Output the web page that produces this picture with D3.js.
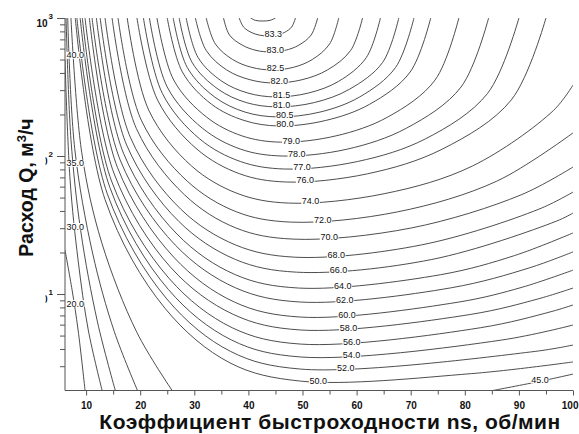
<!DOCTYPE html>
<html>
<head>
<meta charset="utf-8">
<script src="https://cdn.jsdelivr.net/npm/d3@7"></script>
<style>
  body { margin: 0; background: #fff; }
  svg { display: block; }
  text { font-family: "Liberation Sans", Arial, sans-serif; }
</style>
</head>
<body>
<svg id="chart" width="579" height="434"></svg>
<script>
// Pump efficiency isolines: specific speed ns (rpm) vs flow Q (m3/h), efficiency in %.
// Each isoline is a list of [ns, Q] points, ordered left to right.
const line834 = [[40.4,1000],[41.3,961],[42.6,951],[44.0,961],[45.0,1000]];
const line833 = [[38.3,1000],[39.1,861],[40.5,787],[42.0,752],[43.7,741],[45.3,752],[46.7,787],[48.0,861],[48.7,1000]];
const line830 = [[35.4,1000],[36.5,753],[38.9,635],[41.4,583],[44.1,567],[46.8,583],[49.3,635],[51.6,753],[52.8,1000]];
const line825 = [[32.2,1000],[33.9,648],[37.1,500],[40.6,439],[44.4,420],[48.3,439],[51.8,500],[55.0,648],[56.7,1000]];
const line820 = [[30.2,1000],[32.2,582],[36.0,420],[40.3,357],[44.8,338],[49.9,357],[54.6,420],[58.9,582],[61.1,1000]];
const line815 = [[28.5,1000],[30.7,517],[35.1,348],[39.9,286],[45.0,268],[51.1,286],[56.7,348],[61.8,517],[64.4,1000]];
const line810 = [[27.2,1000],[29.6,476],[34.4,305],[39.6,244],[45.2,227],[52.2,244],[58.7,305],[64.8,476],[67.8,1000]];
const line805 = [[26.1,1000],[28.7,438],[33.8,267],[39.4,208],[45.4,192],[53.2,208],[60.5,267],[67.2,438],[70.6,1000]];
const line800 = [[25.0,1000],[27.8,406],[33.2,237],[39.2,181],[45.6,165],[54.3,181],[62.4,237],[69.9,406],[73.7,1000]];
const line790 = [[23.1,1000],[26.2,355],[32.3,191],[38.8,140],[45.9,126],[56.2,140],[65.7,191],[74.5,355],[78.9,1000]];
const line780 = [[21.7,1000],[25.0,316],[31.5,159],[38.6,112],[46.3,100],[58.2,112],[69.2,159],[79.3,316],[84.4,1000]];
const line770 = [[20.6,1000],[24.1,284],[31.0,133],[38.5,91.3],[46.7,80.5],[60.2,91.3],[72.7,133],[84.2,284],[90.0,1000]];
const line760 = [[19.4,1000],[23.2,255],[30.5,112],[38.4,74.3],[47.0,64.8],[62.0,74.3],[75.8,112],[88.6,255],[95.0,1000]];
const line740 = [[17.6,1000],[21.6,214],[29.5,84.6],[38.1,53.3],[47.4,45.6],[65.1,53.3],[81.4,84.6],[96.4,214],[100,327]];
const line720 = [[15.9,1000],[20.2,182],[28.7,65.7],[37.8,39.4],[47.8,33.2],[67.6,39.4],[85.9,65.7],[100,147]];
const line700 = [[14.8,1000],[19.3,158],[28.2,52.3],[37.7,30.1],[48.2,25.0],[70.1,30.1],[90.4,52.3],[100,83.2]];
const line680 = [[13.5,1000],[18.2,136],[27.5,41.2],[37.6,22.7],[48.5,18.5],[72.0,22.7],[93.7,41.2],[100,54.8]];
const line660 = [[12.6,1000],[17.5,120],[27.1,33.7],[37.6,17.8],[48.9,14.4],[73.9,17.8],[96.9,33.7],[100,38.6]];
const line640 = [[11.9,1000],[16.9,105],[26.8,27.2],[37.6,13.8],[49.3,11.05],[75.5,13.8],[89.2,19.0],[100,27.7]];
const line620 = [[11.1,1000],[16.3,93.5],[26.5,22.6],[37.6,11.1],[49.6,8.75],[77.5,11.1],[92.0,15.5],[100,20.2]];
const line600 = [[10.6,1000],[15.8,82.5],[26.2,18.5],[37.4,8.75],[49.6,6.81],[78.9,8.75],[90.6,11.2],[100,14.9]];
const line580 = [[9.8,1000],[15.2,74.1],[25.7,15.5],[37.2,7.12],[49.6,5.49],[81.1,7.12],[93.6,9.23],[100,11.05]];
const line560 = [[9.3,1000],[14.7,65.9],[25.4,12.9],[37.0,5.70],[49.6,4.34],[82.9,5.70],[96.1,7.48],[100,8.33]];
const line540 = [[8.9,1000],[14.4,59.1],[25.2,10.8],[36.9,4.64],[49.6,3.50],[86.8,4.64],[100,5.96]];
const line520 = [[8.3,1000],[13.9,53.5],[24.9,9.23],[36.7,3.84],[49.6,2.86],[93.0,3.84],[100,4.27]];
const line500 = [[8.0,1000],[13.5,48.4],[24.6,7.87],[36.6,3.17],[49.6,2.34],[81.2,2.65],[100,3.22]];
const line450a = [[7.2,1000],[9.2,105.5],[12.9,23.5],[19.4,5.26],[25.9,2]];
const line450b = [[85.2,2],[94.1,2.34],[100,2.63]];
const line400 = [[6.6,1000],[7.9,113],[11.2,19.8],[15.2,5.36],[19.5,2]];
const line350 = [[6.3,1000],[7.2,132],[9.0,28.8],[12.1,6.28],[15.4,2]];
const line300 = [[6.1,496],[7.04,67],[8.52,17.6],[10.4,5.49],[12.96,2]];
const line200 = [[6.1,20.8],[7.41,10.7],[8.52,5.49],[9.81,2]];

// Isoline table: level, points, and where its label sits (by ns or by Q); null = no label
const isolines = [
  [83.4, line834, null],
  [83.3, line833, ["ns", 44.8]],
  [83.0, line830, ["ns", 45.2]],
  [82.5, line825, ["ns", 45.2]],
  [82.0, line820, ["ns", 45.9]],
  [81.5, line815, ["ns", 46.3]],
  [81.0, line810, ["ns", 46.3]],
  [80.5, line805, ["ns", 46.9]],
  [80.0, line800, ["ns", 46.9]],
  [79.0, line790, ["ns", 48.1]],
  [78.0, line780, ["ns", 49.1]],
  [77.0, line770, ["ns", 50.0]],
  [76.0, line760, ["ns", 50.6]],
  [74.0, line740, ["ns", 51.7]],
  [72.0, line720, ["ns", 53.9]],
  [70.0, line700, ["ns", 55.0]],
  [68.0, line680, ["ns", 56.3]],
  [66.0, line660, ["ns", 56.7]],
  [64.0, line640, ["ns", 57.6]],
  [62.0, line620, ["ns", 58.0]],
  [60.0, line600, ["ns", 58.3]],
  [58.0, line580, ["ns", 58.7]],
  [56.0, line560, ["ns", 59.3]],
  [54.0, line540, ["ns", 59.1]],
  [52.0, line520, ["ns", 58.0]],
  [50.0, line500, ["ns", 52.8]],
  [45.0, line450a, null],
  [45.0, line450b, ["ns", 94.1]],
  [40.0, line400, ["Q", 522]],
  [35.0, line350, ["Q", 86]],
  [30.0, line300, ["Q", 30]],
  [20.0, line200, ["Q", 8.3]]
];

const xTicks = [10, 20, 30, 40, 50, 60, 70, 80, 90, 100];
const xMinorTicks = [15, 25, 35, 45, 55, 65, 75, 85, 95];
const yDecades = [10, 100, 1000];
const yExponents = ["1", "2", "3"];
const yMinorTicks = [3,4,5,6,7,8,9, 20,30,40,50,60,70,80,90, 200,300,400,500,600,700,800,900];

const xTitle = "Коэффициент быстроходности ns, об/мин";
const yTitleMain = "Расход Q, м";
const yTitleSup = "3";
const yTitleEnd = "/ч";

const svg = d3.select("#chart");
const plot = { left: 65, right: 573, top: 18, bottom: 390.5 };

const x = d3.scaleLinear().domain([6.1, 100]).range([plot.left, plot.right]);
const y = d3.scaleLog().domain([2, 1000]).range([plot.bottom, plot.top]);

svg.append("defs").append("clipPath").attr("id", "plotClip")
  .append("rect")
  .attr("x", plot.left).attr("y", plot.top)
  .attr("width", plot.right - plot.left).attr("height", plot.bottom - plot.top);

const line = d3.line()
  .x(d => x(d[0]))
  .y(d => y(d[1]))
  .curve(d3.curveCatmullRom.alpha(0.5));

const gLines = svg.append("g").attr("clip-path", "url(#plotClip)");
const paths = gLines.selectAll("path")
  .data(isolines)
  .join("path")
  .attr("d", d => line(d[1]))
  .attr("fill", "none")
  .attr("stroke", "#3a3a3a")
  .attr("stroke-width", 0.9);

// Labels: find the spot on each drawn isoline, then break the line under the text
const gLabels = svg.append("g");
paths.each(function (d) {
  if (!d[2]) return;
  const node = this;
  const len = node.getTotalLength();
  const pts = [];
  for (let i = 0; i <= 600; i++) pts.push(node.getPointAtLength(len * i / 600));
  let best;
  if (d[2][0] === "ns") {
    const tx = x(d[2][1]);
    const near = pts.filter(p => Math.abs(p.x - tx) < 1.2);
    best = near.length ? near.reduce((a, b) => (b.y > a.y ? b : a))
                       : pts.reduce((a, b) => (Math.abs(b.x - tx) < Math.abs(a.x - tx) ? b : a));
  } else {
    const ty = y(d[2][1]);
    best = pts.reduce((a, b) => (Math.abs(b.y - ty) < Math.abs(a.y - ty) ? b : a));
  }
  const g = gLabels.append("g");
  const rect = g.append("rect").attr("fill", "#fff");
  const t = g.append("text")
    .attr("x", best.x).attr("y", best.y + 1.5)
    .attr("text-anchor", "middle")
    .attr("font-size", 9)
    .attr("fill", "#111")
    .text(d[0].toFixed(1));
  let bb = t.node().getBBox();
  // keep labels inside the plot frame
  if (bb.x < plot.left + 1.5) {
    t.attr("x", best.x + (plot.left + 1.5 - bb.x));
    bb = t.node().getBBox();
  }
  rect.attr("x", bb.x - 0.5).attr("y", best.y - 5)
      .attr("width", bb.width + 1).attr("height", 7);
});

// Axes
const axisColor = "#555";
const xAxis = svg.append("g").attr("transform", `translate(0,${plot.bottom})`)
  .call(d3.axisBottom(x).tickValues(xTicks).tickSize(5).tickFormat(d3.format("d")));
svg.append("g").attr("transform", `translate(0,${plot.bottom})`)
  .call(d3.axisBottom(x).tickValues(xMinorTicks).tickSize(4).tickFormat(""))
  .call(g => g.select(".domain").remove())
  .selectAll("line").attr("stroke", axisColor);
xAxis.select(".domain").attr("stroke", axisColor).attr("d", `M${plot.left},0H${plot.right}`);
xAxis.selectAll(".tick line").attr("stroke", axisColor);
xAxis.selectAll(".tick text")
  .attr("font-family", "'Liberation Sans', Arial, sans-serif")
  .attr("font-size", 10).attr("font-weight", "bold").attr("fill", "#111")
  .attr("dy", "1.05em");
// last tick label tucked inside the frame
xAxis.selectAll(".tick text").filter(d => d === 100)
  .attr("text-anchor", "end").attr("x", 578 - x(100));

const yAxis = svg.append("g").attr("transform", `translate(${plot.left},0)`)
  .call(d3.axisLeft(y).tickValues(yDecades).tickSize(8).tickFormat(""));
svg.append("g").attr("transform", `translate(${plot.left},0)`)
  .call(d3.axisLeft(y).tickValues(yMinorTicks).tickSize(5).tickFormat(""))
  .call(g => g.select(".domain").remove())
  .selectAll("line").attr("stroke", axisColor);
yAxis.select(".domain").attr("stroke", axisColor).attr("d", `M0,${plot.top}V${plot.bottom}`);
yAxis.selectAll(".tick line").attr("stroke", axisColor);

const yLab = svg.append("g");
yDecades.forEach((v, i) => {
  const ty = y(v);
  yLab.append("text")
    .attr("x", 47.5).attr("y", ty + 9)
    .attr("text-anchor", "end")
    .attr("font-size", 10).attr("font-weight", "bold").attr("fill", "#111")
    .text("10");
  yLab.append("text")
    .attr("x", 48.5).attr("y", ty + 1)
    .attr("font-size", 8).attr("font-weight", "bold").attr("fill", "#111")
    .text(yExponents[i]);
});

// Y title on an opaque box
svg.append("rect").attr("x", 2).attr("y", 95).attr("width", 43.5).attr("height", 208).attr("fill", "#fff");
const yt = svg.append("text")
  .attr("transform", "translate(33,187.5) rotate(-90)")
  .attr("text-anchor", "middle")
  .attr("font-size", 19.5).attr("font-weight", "bold").attr("fill", "#111");
yt.append("tspan").text(yTitleMain);
yt.append("tspan").attr("font-size", 13).attr("dy", -7.5).text(yTitleSup);
yt.append("tspan").attr("dy", 7.5).text(yTitleEnd);

svg.append("text")
  .attr("x", 330).attr("y", 429)
  .attr("text-anchor", "middle")
  .attr("font-size", 21).attr("font-weight", "bold").attr("fill", "#111")
  .attr("letter-spacing", 0.5)
  .text(xTitle);
</script>
</body>
</html>
